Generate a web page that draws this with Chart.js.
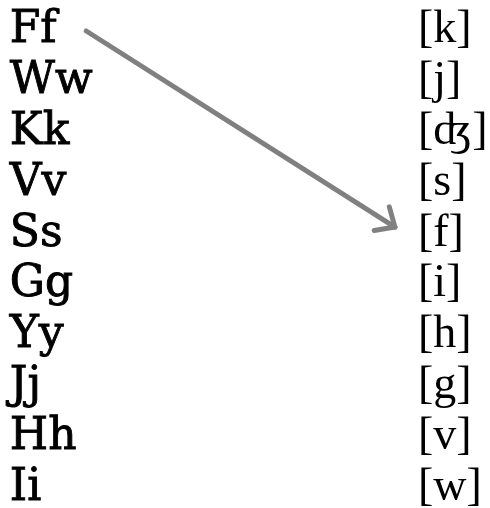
<!DOCTYPE html>
<html>
<head>
<meta charset="utf-8">
<script src="https://cdn.jsdelivr.net/npm/chart.js@4.4.1/dist/chart.umd.min.js"></script>
<style>
  html, body { margin: 0; padding: 0; background: #fff; }
  #wrap { width: 490px; height: 508px; }
</style>
</head>
<body>
<div id="wrap"><canvas id="chart"></canvas></div>
<script>
// letters on the left, sounds on the right (one row each)
const letters = ['Ff', 'Ww', 'Kk', 'Vv', 'Ss', 'Gg', 'Yy', 'Jj', 'Hh', 'Ii'];
const sounds = ['[k]', '[j]', '[ʤ]', '[s]', '[f]', '[i]', '[h]', '[g]', '[v]', '[w]'];

// arrow from "Ff" to "[f]" (x in 0..1, y in row units)
const arrowFrom = { x: 0.176, y: 0.11 };
const arrowTo = { x: 0.806, y: 3.97 };

const leftX = 0.02;
const rightX = 0.853;

// draws the two text columns and the arrow head
const labelsPlugin = {
  id: 'labels',
  afterDatasetsDraw(chart) {
    const ctx = chart.ctx;
    const xs = chart.scales.x;
    const ys = chart.scales.y;
    ctx.save();
    ctx.fillStyle = '#000';
    ctx.strokeStyle = '#000';
    ctx.textBaseline = 'alphabetic';
    ctx.textAlign = 'left';
    ctx.font = '44px "DejaVu Serif"';
    ctx.lineWidth = 0.9;
    letters.forEach((t, i) => {
      const px = xs.getPixelForValue(leftX), py = ys.getPixelForValue(i) + 17;
      ctx.fillText(t, px, py);
      ctx.strokeText(t, px, py);
    });
    ctx.font = '46px "Liberation Serif"';
    sounds.forEach((t, i) => {
      ctx.fillText(t, xs.getPixelForValue(rightX), ys.getPixelForValue(i) + 17);
    });

    // arrow head
    const pts = chart.getDatasetMeta(0).data;
    const a = pts[0], b = pts[1];
    const ang = Math.atan2(b.y - a.y, b.x - a.x);
    const len = 21;
    const spread = 42 * Math.PI / 180;
    ctx.strokeStyle = '#808080';
    ctx.lineWidth = 5;
    ctx.lineCap = 'round';
    ctx.lineJoin = 'round';
    ctx.beginPath();
    ctx.moveTo(b.x - len * Math.cos(ang - spread), b.y - len * Math.sin(ang - spread));
    ctx.lineTo(b.x, b.y);
    ctx.lineTo(b.x - len * Math.cos(ang + spread), b.y - len * Math.sin(ang + spread));
    ctx.stroke();
    ctx.restore();
  }
};

new Chart(document.getElementById('chart'), {
  type: 'scatter',
  data: {
    datasets: [{
      data: [arrowFrom, arrowTo],
      showLine: true,
      borderColor: '#808080',
      borderWidth: 5,
      borderCapStyle: 'round',
      pointRadius: 0,
      fill: false
    }]
  },
  options: {
    responsive: true,
    maintainAspectRatio: false,
    animation: false,
    layout: { padding: 0 },
    plugins: {
      legend: { display: false },
      tooltip: { enabled: false }
    },
    scales: {
      x: { type: 'linear', min: 0, max: 1, display: false },
      y: { type: 'linear', min: -0.5, max: 9.5, reverse: true, display: false }
    }
  },
  plugins: [labelsPlugin]
});
</script>
</body>
</html>
